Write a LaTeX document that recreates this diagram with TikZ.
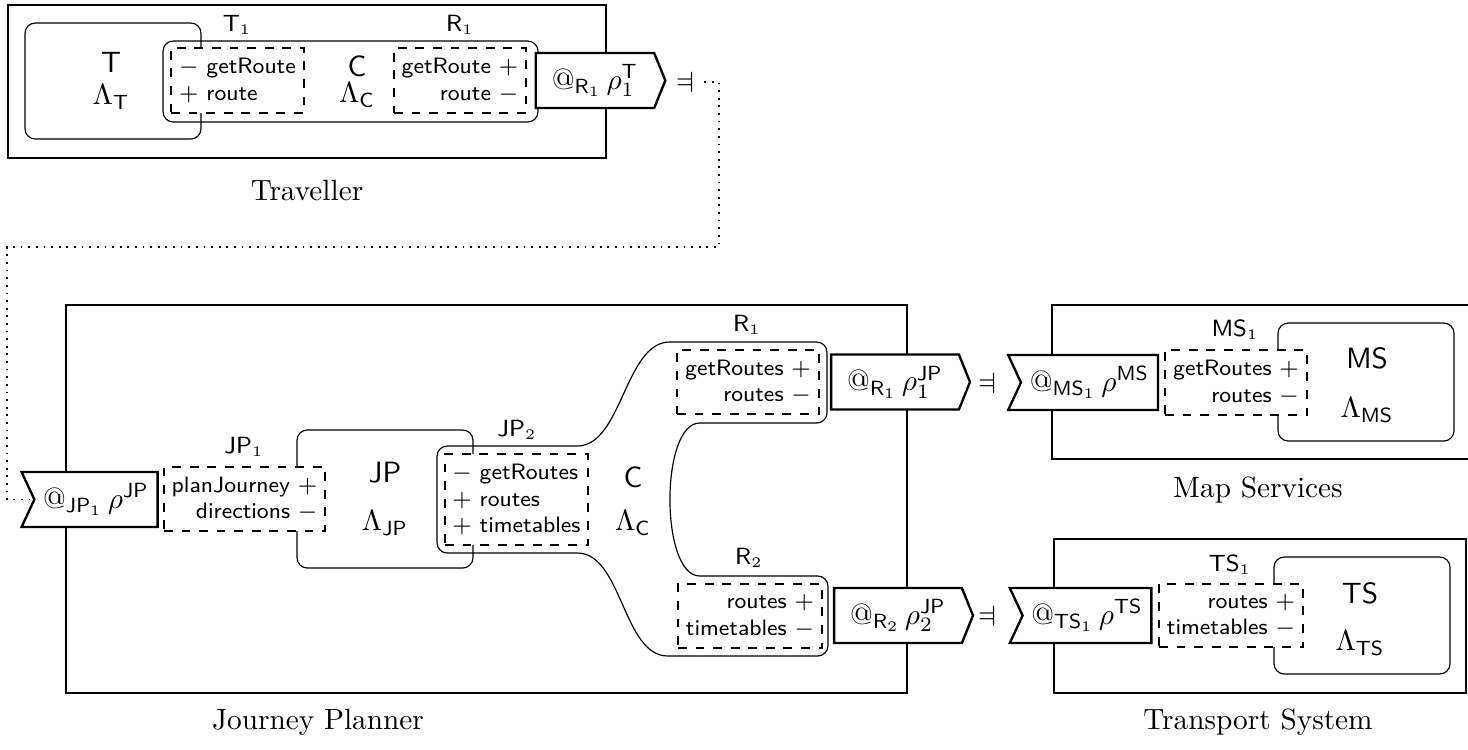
\documentclass[tikz,border=0pt]{standalone}
\usepackage{amssymb,amsmath}
\usepackage{graphicx}
\usepackage{tikz}
\usetikzlibrary{shapes.symbols}
\tikzstyle{outer} = [thick]
\tikzstyle{comp} = [rounded corners=3.5pt]
\tikzstyle{port} = [draw,semithick,dashed,fill=white,font=\sffamily\fontsize{7.6pt}{9.1pt}\selectfont,inner sep=0pt]
\tikzstyle{portl} = [port,align=left]
\tikzstyle{portr} = [port,align=right]
\tikzstyle{flagout} = [draw,thick,fill=white,shape=signal,signal to=east,signal pointer angle=136,inner xsep=5.5pt,minimum height=0.66cm]
\tikzstyle{flagin} = [draw,thick,fill=white,shape=signal,signal from=west,signal to=nowhere,signal pointer angle=130,inner xsep=3pt,minimum height=0.66cm]
\tikzstyle{pname} = [font=\fontsize{7.6pt}{9.1pt}\selectfont]
\tikzstyle{big} = [font=\sffamily]
\newcommand{\sinv}{\reflectbox{$\vDash$}}

\begin{document}
\begin{tikzpicture}[x=0.012cm,y=-0.012cm]
    \useasboundingbox (0,0) rectangle (1468,749);
    % outer boxes
    \draw[outer] (8,5) rectangle (606,158);
    \draw[outer] (66,305) rectangle (907,693);
    \draw[outer] (1480,305) -| (1052,459) -- (1480,459);
    \draw[outer] (1054,539) rectangle (1466,693);
    % components
    \draw[comp] (25,23) rectangle (201,139);
    \draw[comp] (163,41) rectangle (538,122);
    \draw[comp] (297,430) rectangle (473,568);
    \draw[comp] (1278,323) rectangle (1454,441);
    \draw[comp] (1274,557) rectangle (1450,674);
    % connector of the planner
    \draw[comp] (500,446) -- (437,446) -- (437,553) -- (567,553)
        .. controls (622,553) and (623,656) .. (678,656) -- (828,656) -- (828,576) -- (710,576)
        .. controls (660,576) and (660,423) .. (710,423) -- (827,423) -- (827,342) -- (680,342)
        .. controls (625,342) and (622,446) .. (567,446) -- cycle;
    % ports
    \node[portl,minimum width=1.596cm,minimum height=0.78cm] (pT1) at (237.5,80.5) {$-$ getRoute\\$+$ route};
    \node[portr,minimum width=1.584cm,minimum height=0.78cm] (pR1T) at (460,80.5) {getRoute $+$\\route $-$};
    \node[portr,minimum width=1.932cm,minimum height=0.768cm] (pJP1) at (244.5,499) {planJourney $+$\\directions $-$};
    \node[portl,minimum width=1.716cm,minimum height=1.092cm] (pJP2) at (516.5,499.5) {$-$ getRoutes\\$+$ routes\\$+$ timetables};
    \node[portr,minimum width=1.704cm,minimum height=0.768cm] (pR1) at (748,382) {getRoutes $+$\\routes $-$};
    \node[portr,minimum width=1.728cm,minimum height=0.768cm] (pR2) at (750,616) {routes $+$\\timetables $-$};
    \node[portr,minimum width=1.704cm,minimum height=0.78cm] (pMS1) at (1236,382.5) {getRoutes $+$\\routes $-$};
    \node[portr,minimum width=1.728cm,minimum height=0.756cm] (pTS1) at (1231,615.5) {routes $+$\\timetables $-$};
    % port names
    \node[pname] (lT1) at (237,25) {$\mathsf{T}_1$};
    \node[pname] (lR1T) at (460,25) {$\mathsf{R}_1$};
    \node[pname] (lJP1) at (244,447) {$\mathsf{JP}_1$};
    \node[pname] (lJP2) at (517,430) {$\mathsf{JP}_2$};
    \node[pname] (lR1) at (747,325) {$\mathsf{R}_1$};
    \node[pname] (lR2) at (749,558) {$\mathsf{R}_2$};
    \node[pname] (lMS1) at (1235,330) {$\mathsf{MS}_1$};
    \node[pname] (lTS1) at (1230,565) {$\mathsf{TS}_1$};
    % component names
    \node[big] (cT) at (111,62) {T};
    \node (cLT) at (111,97) {$\Lambda_{\mathsf{T}}$};
    \node[big] (cC) at (357,66) {C};
    \node (cLC) at (357,95) {$\Lambda_{\mathsf{C}}$};
    \node[big] (cJP) at (385,473) {JP};
    \node (cLJP) at (385,523) {$\Lambda_{\mathsf{JP}}$};
    \node[big] (cC2) at (633,477) {C};
    \node (cLC2) at (633,523) {$\Lambda_{\mathsf{C}}$};
    \node[big] (cMS) at (1367,358) {MS};
    \node (cLMS) at (1367,410) {$\Lambda_{\mathsf{MS}}$};
    \node[big] (cTS) at (1360,593) {TS};
    \node (cLTS) at (1360,643) {$\Lambda_{\mathsf{TS}}$};
    % flags
    \node[flagout] (fT) at (595,80.5) {$@_{\mathsf{R}_1}\,\rho_1^{\mathsf{T}}$};
    \node[flagin] (fJP) at (96,499.5) {$@_{\mathsf{JP}_1}\,\rho^{\mathsf{JP}}$};
    \node[flagout] (fR1) at (895,382) {$@_{\mathsf{R}_1}\,\rho_1^{\mathsf{JP}}$};
    \node[flagout] (fR2) at (898,615.5) {$@_{\mathsf{R}_2}\,\rho_2^{\mathsf{JP}}$};
    \node[flagin] (fMS) at (1089.5,382.5) {$@_{\mathsf{MS}_1}\,\rho^{\mathsf{MS}}$};
    \node[flagin] (fTS) at (1087,615.5) {$@_{\mathsf{TS}_1}\,\rho^{\mathsf{TS}}$};
    \node (dvT) at (685,82) {\sinv};
    \node (dvR1) at (987,383) {\sinv};
    \node (dvR2) at (987,616) {\sinv};
    % binding
    \draw[dotted,semithick] (dvT.east) -- (719,82) |- (7,247) |- (fJP.west);
    % system names
    \node (nT) at (307,190) {Traveller};
    \node (nJP) at (318,722) {Journey Planner};
    \node (nMS) at (1258,490) {Map Services};
    \node (nTS) at (1258,722) {Transport System};
\end{tikzpicture}
\end{document}
